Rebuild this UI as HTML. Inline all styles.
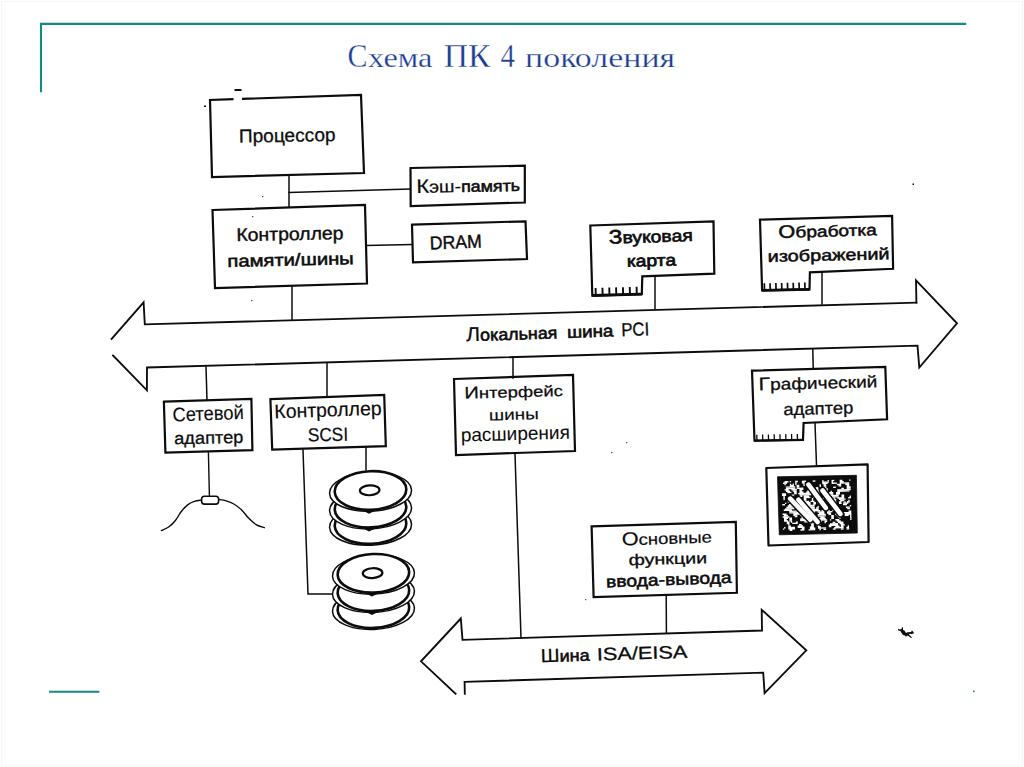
<!DOCTYPE html>
<html lang="ru"><head><meta charset="utf-8"><title>Схема ПК 4 поколения</title>
<style>
html,body{margin:0;padding:0;background:#fff;}
body{width:1024px;height:767px;overflow:hidden;position:relative;font-family:"Liberation Sans",sans-serif;}
svg{position:absolute;left:0;top:0;display:block;}
.l{fill:none;stroke:#0c0c0c;stroke-width:1.85;stroke-linecap:square;stroke-linejoin:miter;}
.c{stroke-width:1.5 !important;}
.b{fill:none;stroke:#0c0c0c;stroke-width:2.2;stroke-linejoin:miter;}
.t{font-family:"Liberation Sans",sans-serif;font-size:18.5px;fill:#0c0c0c;stroke:#0c0c0c;stroke-width:0.5;}
.title{font-family:"Liberation Serif",serif;fill:#1b3b92;font-size:34px;stroke:#fff;stroke-width:0.35;}
.lc{font-size:26.8px;stroke:#fff;stroke-width:0.25;}
</style></head><body>
<svg width="1024" height="767" viewBox="0 0 1024 767">
<rect x="0" y="0" width="1024" height="767" fill="#ffffff"/>
<rect x="1.5" y="1.5" width="1021" height="764" fill="none" stroke="#f6f6f6" stroke-width="1"/>
<path d="M41 92.2 V23.85 H966.2" fill="none" stroke="#138a88" stroke-width="2.1"/>
<path d="M49 691.8 H99.4" fill="none" stroke="#138a88" stroke-width="2.1"/>
<rect x="973" y="690.5" width="1.6" height="1.6" fill="#2f7f9f"/>
<text class="title" y="66.7"><tspan x="347.6" textLength="20" lengthAdjust="spacingAndGlyphs">С</tspan><tspan class="lc" x="368" textLength="64.5" lengthAdjust="spacingAndGlyphs">хема</tspan></text>
<text class="title" x="443.7" y="66.7" textLength="46.8" lengthAdjust="spacingAndGlyphs">ПК</text>
<text class="title" x="500.6" y="66.7" textLength="14.5" lengthAdjust="spacingAndGlyphs">4</text>
<text class="title" x="525.1" y="66.7" textLength="150" lengthAdjust="spacingAndGlyphs"><tspan class="lc">поколения</tspan></text>
<path class="b" d="M233.5 99.2 L210 100 L212 177 L364 173 L361 95 L242 98.9"/>
<text class="t" x="239" y="142.6" textLength="96.7" lengthAdjust="spacingAndGlyphs" transform="rotate(-0.95 239 142.6)" style="font-size:18.8px;stroke-width:0.3">Процессор</text>
<rect x="234.5" y="89" width="7" height="2" fill="#0c0c0c"/>
<rect x="204" y="105.5" width="2" height="1.5" fill="#0c0c0c"/>
<path class="l c" d="M289 175 L289 207"/>
<path class="l c" d="M289 192.5 L410 189"/>
<path class="b" d="M212.5 210 L365 205 L367 283.5 L215 288 Z"/>
<text class="t" x="236.4" y="241.1" textLength="107.3" lengthAdjust="spacingAndGlyphs" transform="rotate(-1.01 236.4 241.1)" style="font-size:18.2px;stroke-width:0.4">Контроллер</text>
<text class="t" x="227.5" y="267.1" textLength="126.4" lengthAdjust="spacingAndGlyphs" transform="rotate(-1.36 227.5 267.1)" style="font-size:18.5px;stroke-width:0.5"><tspan style="font-size:17px;stroke-width:0.55;">памяти/шины</tspan></text>
<path class="l c" d="M366 245.5 L412 244.5"/>
<path class="b" d="M410.5 168 L524.8 165.7 L524.8 202.5 L410.7 206 Z"/>
<text class="t" x="416.4" y="193" textLength="103.8" lengthAdjust="spacingAndGlyphs" transform="rotate(-1.21 416.4 193)" style="font-size:18.5px;stroke-width:0.5"><tspan style="font-size:19.4px;stroke-width:0.2;">К</tspan><tspan style="font-size:17.2px;stroke-width:0.2;">эш-</tspan><tspan style="font-size:15.8px;stroke-width:0.55;">память</tspan></text>
<path class="b" d="M412 224.7 L525.5 221.3 L527 259 L413 262.3 Z"/>
<text class="t" x="430" y="249.5" textLength="52.1" lengthAdjust="spacingAndGlyphs" transform="rotate(-2.31 430 249.5)" style="font-size:18.6px;stroke-width:0.4">DRAM</text>
<path class="l c" d="M292 287 L292 320"/>
<path class="l" d="M916.4 302.6 L144.8 324.4 L143.6 302.3 L111.6 338.9"/>
<path class="l" d="M113 355.5 L146.9 390.3 L147 367.5 L917.5 345.6 L919.3 367.5 L957 323.3 L916 280.4 L916.4 302.6"/>
<text class="t" x="466.3" y="341.2" textLength="91.2" lengthAdjust="spacingAndGlyphs" transform="rotate(-1.70 466.3 341.2)" style="font-size:18.5px;stroke-width:0.5"><tspan style="font-size:20px;stroke-width:0.2;">Л</tspan><tspan style="font-size:16.7px;stroke-width:0.6;">окальная</tspan></text>
<text class="t" x="567.2" y="337.9" textLength="46.4" lengthAdjust="spacingAndGlyphs" transform="rotate(-1.73 567.2 337.9)" style="font-size:18.5px;stroke-width:0.5"><tspan style="font-size:16.7px;stroke-width:0.6;">шина</tspan></text>
<text class="t" x="621.4" y="336.2" textLength="27.9" lengthAdjust="spacingAndGlyphs" transform="rotate(-1.85 621.4 336.2)" style="font-size:18.7px;stroke-width:0.3">PCI</text>
<path class="b" d="M590.3 225.5 L713.5 221.3 L714.3 273.7 L642.3 276.3 L641.8 294.2 L592.3 295.5 Z"/>
<path class="b" style="stroke-width:2.8" d="M592.3 295.5 L641.8 294.2"/>
<path class="l" style="stroke-width:1.9;stroke-linecap:butt" d="M595.8 295.408 L595.6 287.908"/>
<path class="l" style="stroke-width:1.9;stroke-linecap:butt" d="M602.633 295.229 L602.433 287.729"/>
<path class="l" style="stroke-width:1.9;stroke-linecap:butt" d="M609.467 295.049 L609.267 287.549"/>
<path class="l" style="stroke-width:1.9;stroke-linecap:butt" d="M616.3 294.87 L616.1 287.37"/>
<path class="l" style="stroke-width:1.9;stroke-linecap:butt" d="M623.133 294.69 L622.933 287.19"/>
<path class="l" style="stroke-width:1.9;stroke-linecap:butt" d="M629.967 294.511 L629.767 287.011"/>
<path class="l" style="stroke-width:1.9;stroke-linecap:butt" d="M636.8 294.331 L636.6 286.831"/>
<text class="t" x="609.1" y="243.8" textLength="83.8" lengthAdjust="spacingAndGlyphs" transform="rotate(-1.91 609.1 243.8)" style="font-size:18.5px;stroke-width:0.5"><tspan style="font-size:19.5px;stroke-width:0.65;">З</tspan><tspan style="font-size:16.8px;stroke-width:0.65;">вуковая</tspan></text>
<text class="t" x="626.9" y="266.7" textLength="49.3" lengthAdjust="spacingAndGlyphs" transform="rotate(-1.28 626.9 266.7)" style="font-size:18.5px;stroke-width:0.5"><tspan style="font-size:16.4px;stroke-width:0.7;">карта</tspan></text>
<path class="l c" d="M655 277 L655 308.5"/>
<path class="b" d="M760 219.6 L892.1 215.8 L893.1 268.8 L809.9 272.3 L809.5 289.3 L762.1 290.4 Z"/>
<path class="b" style="stroke-width:2.8" d="M762.1 290.4 L809.5 289.3"/>
<path class="l" style="stroke-width:1.7;stroke-linecap:butt" d="M764.5 290.344 L764.3 283.344"/>
<path class="l" style="stroke-width:1.7;stroke-linecap:butt" d="M770.286 290.21 L770.086 283.21"/>
<path class="l" style="stroke-width:1.7;stroke-linecap:butt" d="M776.071 290.076 L775.871 283.076"/>
<path class="l" style="stroke-width:1.7;stroke-linecap:butt" d="M781.857 289.942 L781.657 282.942"/>
<path class="l" style="stroke-width:1.7;stroke-linecap:butt" d="M787.643 289.807 L787.443 282.807"/>
<path class="l" style="stroke-width:1.7;stroke-linecap:butt" d="M793.429 289.673 L793.229 282.673"/>
<path class="l" style="stroke-width:1.7;stroke-linecap:butt" d="M799.214 289.539 L799.014 282.539"/>
<path class="l" style="stroke-width:1.7;stroke-linecap:butt" d="M805 289.404 L804.8 282.404"/>
<text class="t" x="778.6" y="238.1" textLength="98.4" lengthAdjust="spacingAndGlyphs" transform="rotate(-1.69 778.6 238.1)" style="font-size:18.5px;stroke-width:0.5"><tspan style="font-size:18px;stroke-width:0.5;">О</tspan><tspan style="font-size:15.8px;stroke-width:0.5;">бработка</tspan></text>
<text class="t" x="767.8" y="261.9" textLength="121.9" lengthAdjust="spacingAndGlyphs" transform="rotate(-1.22 767.8 261.9)" style="font-size:16.2px;stroke-width:0.5">изображений</text>
<path class="l c" d="M822 272 L822 304"/>
<path class="l c" d="M206 367 L207 400"/>
<path class="b" d="M163.9 401.7 L251.4 398.9 L252.4 450.2 L165.4 452.7 Z"/>
<text class="t" x="172.7" y="421.5" textLength="71.3" lengthAdjust="spacingAndGlyphs" transform="rotate(-2.09 172.7 421.5)" style="font-size:19.6px;stroke-width:0.1">Сетевой</text>
<text class="t" x="174.2" y="444.3" textLength="69.3" lengthAdjust="spacingAndGlyphs" transform="rotate(-1.16 174.2 444.3)" style="font-size:17.3px;stroke-width:0.3">адаптер</text>
<path class="l" style="stroke-width:1.4" d="M208.4 452 L209.4 496"/>
<rect x="201.6" y="496.3" width="17" height="7.8" rx="2.8" ry="2.8" class="l" style="fill:#fff;stroke-width:1.6"/>
<path class="l" style="stroke-width:1.4;stroke-linecap:round" d="M161.4 530.6 C162.7 530.0 166.7 528.5 169 526.8 C171.3 525.1 173.3 523.1 175.4 520.5 C177.5 517.9 179.6 513.6 181.7 511 C183.8 508.4 185.9 506.2 188 504.6 C190.1 503.0 192.2 502.1 194.4 501.4 C196.6 500.6 200.2 500.3 201.4 500.1"/>
<path class="l" style="stroke-width:1.4;stroke-linecap:round" d="M218.6 499.5 C219.9 499.7 223.7 500.1 226.2 500.8 C228.7 501.6 231.3 502.5 233.8 504 C236.3 505.5 238.9 507.3 241.4 509.7 C243.9 512.1 246.5 516.1 249 518.6 C251.5 521.1 254.1 523.4 256.6 524.9 C259.2 526.4 263.0 527.2 264.3 527.7"/>
<path class="l c" d="M327 363 L327 396.5"/>
<path class="b" d="M270.4 399.2 L384.2 395 L385.8 446.2 L272.2 449.5 Z"/>
<text class="t" x="274.6" y="418.3" textLength="107.2" lengthAdjust="spacingAndGlyphs" transform="rotate(-1.87 274.6 418.3)" style="font-size:19.6px;stroke-width:0.2">Контроллер</text>
<text class="t" x="307.9" y="441.5" textLength="40.3" lengthAdjust="spacingAndGlyphs" transform="rotate(-1.28 307.9 441.5)" style="font-size:18.9px;stroke-width:0.2">SCSI</text>
<path class="l c" d="M303 450 L308 594 L333.5 594"/>
<path class="l c" d="M366 447 L366 470"/>
<ellipse cx="370.5" cy="525.7" rx="41" ry="19.6" fill="#fff" stroke="#0c0c0c" stroke-width="1.5" transform="rotate(-2.5 370.5 524.5)"/>
<ellipse cx="370.5" cy="524.5" rx="35.8" ry="19.3" fill="#fff" stroke="#0c0c0c" stroke-width="2.6" transform="rotate(-2.5 370.5 524.5)"/>
<ellipse cx="370.5" cy="509.3" rx="41" ry="19.6" fill="#fff" stroke="#0c0c0c" stroke-width="1.5" transform="rotate(-2.5 370.5 508.1)"/>
<ellipse cx="370.5" cy="508.1" rx="35.8" ry="19.3" fill="#fff" stroke="#0c0c0c" stroke-width="2.6" transform="rotate(-2.5 370.5 508.1)"/>
<path d="M360.5 527.1 L369 531.4 L378.5 526.7 Z" fill="#0c0c0c"/>
<ellipse cx="370.5" cy="491.7" rx="41" ry="19.6" fill="#fff" stroke="#0c0c0c" stroke-width="1.5" transform="rotate(-2.5 370.5 490.5)"/>
<ellipse cx="370.5" cy="490.5" rx="35.8" ry="19.3" fill="#fff" stroke="#0c0c0c" stroke-width="2.6" transform="rotate(-2.5 370.5 490.5)"/>
<path d="M360.5 509.5 L369 513.8 L378.5 509.1 Z" fill="#0c0c0c"/>
<ellipse cx="369.7" cy="490.3" rx="9.8" ry="4.9" fill="#fff" stroke="#0c0c0c" stroke-width="2.2" transform="rotate(-2.5 370.5 490.5)"/>
<ellipse cx="373.4" cy="609.8" rx="41" ry="19.6" fill="#fff" stroke="#0c0c0c" stroke-width="1.5" transform="rotate(-2.5 373.4 608.6)"/>
<ellipse cx="373.4" cy="608.6" rx="35.8" ry="19.3" fill="#fff" stroke="#0c0c0c" stroke-width="2.6" transform="rotate(-2.5 373.4 608.6)"/>
<ellipse cx="373.4" cy="592.8" rx="41" ry="19.6" fill="#fff" stroke="#0c0c0c" stroke-width="1.5" transform="rotate(-2.5 373.4 591.6)"/>
<ellipse cx="373.4" cy="591.6" rx="35.8" ry="19.3" fill="#fff" stroke="#0c0c0c" stroke-width="2.6" transform="rotate(-2.5 373.4 591.6)"/>
<path d="M363.4 610.6 L371.9 614.9 L381.4 610.2 Z" fill="#0c0c0c"/>
<ellipse cx="373.4" cy="574.5" rx="41" ry="19.6" fill="#fff" stroke="#0c0c0c" stroke-width="1.5" transform="rotate(-2.5 373.4 573.3)"/>
<ellipse cx="373.4" cy="573.3" rx="35.8" ry="19.3" fill="#fff" stroke="#0c0c0c" stroke-width="2.6" transform="rotate(-2.5 373.4 573.3)"/>
<path d="M363.4 592.3 L371.9 596.6 L381.4 591.9 Z" fill="#0c0c0c"/>
<ellipse cx="372.6" cy="573.1" rx="9.8" ry="4.9" fill="#fff" stroke="#0c0c0c" stroke-width="2.2" transform="rotate(-2.5 373.4 573.3)"/>
<path class="l c" d="M513 357 L513 378"/>
<path class="b" d="M454 379 L573 375 L575 451 L456 455 Z"/>
<text class="t" x="464.6" y="398.6" textLength="98.4" lengthAdjust="spacingAndGlyphs" transform="rotate(-1.51 464.6 398.6)" style="font-size:18.5px;stroke-width:0.5"><tspan style="font-size:16.6px;stroke-width:0.25;">И</tspan><tspan style="font-size:15.2px;stroke-width:0.25;">нтерфейс</tspan></text>
<text class="t" x="489" y="420.4" textLength="50.0" lengthAdjust="spacingAndGlyphs" transform="rotate(-1.26 489 420.4)" style="font-size:15.5px;stroke-width:0.15">шины</text>
<text class="t" x="461" y="441.4" textLength="109.0" lengthAdjust="spacingAndGlyphs" transform="rotate(-1.37 461 441.4)" style="font-size:19px;stroke-width:0.05">расширения</text>
<path class="l c" d="M515 454 L521 638"/>
<path class="l c" d="M812.8 349 L813.2 368"/>
<path class="b" d="M752 370.6 L885.3 367 L887.1 419.3 L803.6 423 L803 439.8 L754.5 440.7 Z"/>
<path class="b" style="stroke-width:2.1" d="M754.5 440.7 L803 439.8"/>
<path class="l" style="stroke-width:1.3;stroke-linecap:butt" d="M757 440.654 L756.8 434.654"/>
<path class="l" style="stroke-width:1.3;stroke-linecap:butt" d="M762.786 440.546 L762.586 434.546"/>
<path class="l" style="stroke-width:1.3;stroke-linecap:butt" d="M768.571 440.439 L768.371 434.439"/>
<path class="l" style="stroke-width:1.3;stroke-linecap:butt" d="M774.357 440.332 L774.157 434.332"/>
<path class="l" style="stroke-width:1.3;stroke-linecap:butt" d="M780.143 440.224 L779.943 434.224"/>
<path class="l" style="stroke-width:1.3;stroke-linecap:butt" d="M785.929 440.117 L785.729 434.117"/>
<path class="l" style="stroke-width:1.3;stroke-linecap:butt" d="M791.714 440.009 L791.514 434.009"/>
<path class="l" style="stroke-width:1.3;stroke-linecap:butt" d="M797.5 439.902 L797.3 433.902"/>
<text class="t" x="758.8" y="390.3" textLength="118.7" lengthAdjust="spacingAndGlyphs" transform="rotate(-1.45 758.8 390.3)" style="font-size:18.5px;stroke-width:0.5"><tspan style="font-size:18.2px;stroke-width:0.3;">Г</tspan><tspan style="font-size:16.5px;stroke-width:0.3;">рафический</tspan></text>
<text class="t" x="783.6" y="415.3" textLength="69.8" lengthAdjust="spacingAndGlyphs" transform="rotate(-1.64 783.6 415.3)" style="font-size:17px;stroke-width:0.3">адаптер</text>
<path class="l c" d="M815 423 L816.5 465"/>
<path d="M766.3 468 L867.6 464.4 L868.6 542 L768.5 545.5 Z" fill="#fff" stroke="#0c0c0c" stroke-width="2.2" stroke-linejoin="round"/>
<path d="M777.5 476.8 L856.4 475.3 L857.3 533 L779.3 534.8 Z" fill="#0c0c0c" stroke="#0c0c0c" stroke-width="0.8"/>
<path transform="rotate(-1.5 817 505)" d="M785.0 480.3h4.05v1.35h-4.05zM790.4 480.3h1.35v1.35h-1.35zM795.8 480.3h2.70v1.35h-2.70zM802.5 480.3h4.05v1.35h-4.05zM813.3 480.3h2.70v1.35h-2.70zM822.8 480.3h1.35v1.35h-1.35zM828.2 480.3h1.35v1.35h-1.35zM832.2 480.3h2.70v1.35h-2.70zM840.3 480.3h2.70v1.35h-2.70zM849.8 480.3h1.35v1.35h-1.35zM783.6 481.7h4.05v1.35h-4.05zM795.8 481.7h1.35v1.35h-1.35zM802.5 481.7h2.70v1.35h-2.70zM809.3 481.7h1.35v1.35h-1.35zM822.8 481.7h6.75v1.35h-6.75zM832.2 481.7h1.35v1.35h-1.35zM840.3 481.7h4.05v1.35h-4.05zM785.0 483.0h1.35v1.35h-1.35zM790.4 483.0h1.35v1.35h-1.35zM793.1 483.0h1.35v1.35h-1.35zM795.8 483.0h1.35v1.35h-1.35zM803.9 483.0h2.70v1.35h-2.70zM809.3 483.0h1.35v1.35h-1.35zM822.8 483.0h5.40v1.35h-5.40zM832.2 483.0h5.40v1.35h-5.40zM840.3 483.0h9.45v1.35h-9.45zM790.4 484.4h4.05v1.35h-4.05zM797.1 484.4h2.70v1.35h-2.70zM803.9 484.4h2.70v1.35h-2.70zM809.3 484.4h1.35v1.35h-1.35zM820.1 484.4h1.35v1.35h-1.35zM824.1 484.4h2.70v1.35h-2.70zM837.6 484.4h4.05v1.35h-4.05zM845.8 484.4h4.05v1.35h-4.05zM786.3 485.7h9.45v1.35h-9.45zM797.1 485.7h2.70v1.35h-2.70zM809.3 485.7h1.35v1.35h-1.35zM820.1 485.7h1.35v1.35h-1.35zM824.1 485.7h2.70v1.35h-2.70zM839.0 485.7h2.70v1.35h-2.70zM847.1 485.7h2.70v1.35h-2.70zM786.3 487.1h9.45v1.35h-9.45zM797.1 487.1h6.75v1.35h-6.75zM809.3 487.1h2.70v1.35h-2.70zM816.0 487.1h2.70v1.35h-2.70zM825.5 487.1h1.35v1.35h-1.35zM833.6 487.1h2.70v1.35h-2.70zM847.1 487.1h4.05v1.35h-4.05zM785.0 488.4h4.05v1.35h-4.05zM791.8 488.4h5.40v1.35h-5.40zM799.8 488.4h4.05v1.35h-4.05zM809.3 488.4h1.35v1.35h-1.35zM816.0 488.4h2.70v1.35h-2.70zM826.8 488.4h1.35v1.35h-1.35zM841.7 488.4h2.70v1.35h-2.70zM847.1 488.4h4.05v1.35h-4.05zM786.3 489.8h4.05v1.35h-4.05zM793.1 489.8h4.05v1.35h-4.05zM799.8 489.8h2.70v1.35h-2.70zM807.9 489.8h2.70v1.35h-2.70zM816.0 489.8h6.75v1.35h-6.75zM825.5 489.8h2.70v1.35h-2.70zM837.6 489.8h13.50v1.35h-13.50zM787.7 491.1h4.05v1.35h-4.05zM794.4 491.1h2.70v1.35h-2.70zM799.8 491.1h4.05v1.35h-4.05zM806.6 491.1h4.05v1.35h-4.05zM817.4 491.1h2.70v1.35h-2.70zM824.1 491.1h4.05v1.35h-4.05zM830.9 491.1h1.35v1.35h-1.35zM837.6 491.1h12.15v1.35h-12.15zM782.3 492.4h4.05v1.35h-4.05zM794.4 492.4h2.70v1.35h-2.70zM798.5 492.4h14.85v1.35h-14.85zM817.4 492.4h2.70v1.35h-2.70zM824.1 492.4h2.70v1.35h-2.70zM829.5 492.4h4.05v1.35h-4.05zM836.3 492.4h4.05v1.35h-4.05zM782.3 493.8h4.05v1.35h-4.05zM791.8 493.8h2.70v1.35h-2.70zM799.8 493.8h12.15v1.35h-12.15zM824.1 493.8h1.35v1.35h-1.35zM828.2 493.8h5.40v1.35h-5.40zM836.3 493.8h4.05v1.35h-4.05zM783.6 495.2h1.35v1.35h-1.35zM799.8 495.2h2.70v1.35h-2.70zM803.9 495.2h5.40v1.35h-5.40zM814.7 495.2h2.70v1.35h-2.70zM824.1 495.2h1.35v1.35h-1.35zM828.2 495.2h10.80v1.35h-10.80zM841.7 495.2h2.70v1.35h-2.70zM783.6 496.5h1.35v1.35h-1.35zM803.9 496.5h6.75v1.35h-6.75zM813.3 496.5h5.40v1.35h-5.40zM832.2 496.5h6.75v1.35h-6.75zM841.7 496.5h2.70v1.35h-2.70zM849.8 496.5h1.35v1.35h-1.35zM783.6 497.9h1.35v1.35h-1.35zM803.9 497.9h2.70v1.35h-2.70zM812.0 497.9h1.35v1.35h-1.35zM817.4 497.9h2.70v1.35h-2.70zM822.8 497.9h1.35v1.35h-1.35zM833.6 497.9h1.35v1.35h-1.35zM837.6 497.9h6.75v1.35h-6.75zM848.4 497.9h2.70v1.35h-2.70zM790.4 499.2h2.70v1.35h-2.70zM803.9 499.2h2.70v1.35h-2.70zM812.0 499.2h1.35v1.35h-1.35zM817.4 499.2h2.70v1.35h-2.70zM822.8 499.2h1.35v1.35h-1.35zM828.2 499.2h2.70v1.35h-2.70zM833.6 499.2h2.70v1.35h-2.70zM839.0 499.2h6.75v1.35h-6.75zM787.7 500.6h1.35v1.35h-1.35zM798.5 500.6h1.35v1.35h-1.35zM802.5 500.6h1.35v1.35h-1.35zM805.2 500.6h4.05v1.35h-4.05zM810.6 500.6h4.05v1.35h-4.05zM817.4 500.6h2.70v1.35h-2.70zM828.2 500.6h4.05v1.35h-4.05zM833.6 500.6h2.70v1.35h-2.70zM840.3 500.6h4.05v1.35h-4.05zM848.4 500.6h1.35v1.35h-1.35zM785.0 501.9h1.35v1.35h-1.35zM790.4 501.9h4.05v1.35h-4.05zM797.1 501.9h6.75v1.35h-6.75zM805.2 501.9h5.40v1.35h-5.40zM813.3 501.9h2.70v1.35h-2.70zM817.4 501.9h2.70v1.35h-2.70zM830.9 501.9h1.35v1.35h-1.35zM834.9 501.9h1.35v1.35h-1.35zM839.0 501.9h2.70v1.35h-2.70zM844.4 501.9h1.35v1.35h-1.35zM847.1 501.9h2.70v1.35h-2.70zM782.3 503.2h2.70v1.35h-2.70zM789.0 503.2h14.85v1.35h-14.85zM805.2 503.2h5.40v1.35h-5.40zM813.3 503.2h2.70v1.35h-2.70zM822.8 503.2h1.35v1.35h-1.35zM834.9 503.2h1.35v1.35h-1.35zM839.0 503.2h2.70v1.35h-2.70zM843.0 503.2h5.40v1.35h-5.40zM787.7 504.6h12.15v1.35h-12.15zM806.6 504.6h8.10v1.35h-8.10zM843.0 504.6h4.05v1.35h-4.05zM786.3 505.9h9.45v1.35h-9.45zM797.1 505.9h2.70v1.35h-2.70zM807.9 505.9h6.75v1.35h-6.75zM817.4 505.9h1.35v1.35h-1.35zM825.5 505.9h1.35v1.35h-1.35zM849.8 505.9h1.35v1.35h-1.35zM785.0 507.3h9.45v1.35h-9.45zM798.5 507.3h2.70v1.35h-2.70zM809.3 507.3h5.40v1.35h-5.40zM816.0 507.3h2.70v1.35h-2.70zM824.1 507.3h2.70v1.35h-2.70zM845.8 507.3h4.05v1.35h-4.05zM783.6 508.7h8.10v1.35h-8.10zM807.9 508.7h10.80v1.35h-10.80zM822.8 508.7h5.40v1.35h-5.40zM834.9 508.7h4.05v1.35h-4.05zM847.1 508.7h2.70v1.35h-2.70zM789.0 510.0h8.10v1.35h-8.10zM803.9 510.0h16.20v1.35h-16.20zM821.4 510.0h8.10v1.35h-8.10zM832.2 510.0h6.75v1.35h-6.75zM789.0 511.4h9.45v1.35h-9.45zM802.5 511.4h6.75v1.35h-6.75zM812.0 511.4h2.70v1.35h-2.70zM817.4 511.4h6.75v1.35h-6.75zM826.8 511.4h5.40v1.35h-5.40zM848.4 511.4h2.70v1.35h-2.70zM782.3 512.7h4.05v1.35h-4.05zM793.1 512.7h6.75v1.35h-6.75zM802.5 512.7h5.40v1.35h-5.40zM818.8 512.7h5.40v1.35h-5.40zM826.8 512.7h4.05v1.35h-4.05zM843.0 512.7h8.10v1.35h-8.10zM783.6 514.0h4.05v1.35h-4.05zM793.1 514.0h4.05v1.35h-4.05zM799.8 514.0h2.70v1.35h-2.70zM803.9 514.0h4.05v1.35h-4.05zM817.4 514.0h8.10v1.35h-8.10zM828.2 514.0h2.70v1.35h-2.70zM834.9 514.0h1.35v1.35h-1.35zM844.4 514.0h6.75v1.35h-6.75zM782.3 515.4h6.75v1.35h-6.75zM794.4 515.4h2.70v1.35h-2.70zM801.2 515.4h1.35v1.35h-1.35zM805.2 515.4h2.70v1.35h-2.70zM817.4 515.4h8.10v1.35h-8.10zM830.9 515.4h2.70v1.35h-2.70zM836.3 515.4h1.35v1.35h-1.35zM844.4 515.4h4.05v1.35h-4.05zM849.8 515.4h1.35v1.35h-1.35zM783.6 516.8h4.05v1.35h-4.05zM789.0 516.8h2.70v1.35h-2.70zM801.2 516.8h1.35v1.35h-1.35zM809.3 516.8h2.70v1.35h-2.70zM820.1 516.8h4.05v1.35h-4.05zM830.9 516.8h2.70v1.35h-2.70zM837.6 516.8h1.35v1.35h-1.35zM849.8 516.8h1.35v1.35h-1.35zM783.6 518.1h2.70v1.35h-2.70zM789.0 518.1h2.70v1.35h-2.70zM799.8 518.1h8.10v1.35h-8.10zM809.3 518.1h4.05v1.35h-4.05zM816.0 518.1h9.45v1.35h-9.45zM830.9 518.1h2.70v1.35h-2.70zM839.0 518.1h1.35v1.35h-1.35zM849.8 518.1h1.35v1.35h-1.35zM783.6 519.5h4.05v1.35h-4.05zM789.0 519.5h2.70v1.35h-2.70zM799.8 519.5h27.00v1.35h-27.00zM829.5 519.5h1.35v1.35h-1.35zM834.9 519.5h4.05v1.35h-4.05zM849.8 519.5h1.35v1.35h-1.35zM786.3 520.8h2.70v1.35h-2.70zM790.4 520.8h1.35v1.35h-1.35zM795.8 520.8h1.35v1.35h-1.35zM803.9 520.8h13.50v1.35h-13.50zM820.1 520.8h1.35v1.35h-1.35zM824.1 520.8h2.70v1.35h-2.70zM836.3 520.8h4.05v1.35h-4.05zM786.3 522.1h2.70v1.35h-2.70zM791.8 522.1h5.40v1.35h-5.40zM809.3 522.1h5.40v1.35h-5.40zM817.4 522.1h2.70v1.35h-2.70zM824.1 522.1h1.35v1.35h-1.35zM832.2 522.1h2.70v1.35h-2.70zM837.6 522.1h5.40v1.35h-5.40zM787.7 523.5h1.35v1.35h-1.35zM798.5 523.5h2.70v1.35h-2.70zM810.6 523.5h2.70v1.35h-2.70zM816.0 523.5h4.05v1.35h-4.05zM829.5 523.5h8.10v1.35h-8.10zM839.0 523.5h4.05v1.35h-4.05zM787.7 524.9h2.70v1.35h-2.70zM797.1 524.9h5.40v1.35h-5.40zM810.6 524.9h2.70v1.35h-2.70zM816.0 524.9h2.70v1.35h-2.70zM828.2 524.9h9.45v1.35h-9.45zM840.3 524.9h4.05v1.35h-4.05zM783.6 526.2h1.35v1.35h-1.35zM787.7 526.2h6.75v1.35h-6.75zM797.1 526.2h6.75v1.35h-6.75zM809.3 526.2h4.05v1.35h-4.05zM817.4 526.2h2.70v1.35h-2.70zM828.2 526.2h2.70v1.35h-2.70zM834.9 526.2h4.05v1.35h-4.05zM840.3 526.2h2.70v1.35h-2.70zM847.1 526.2h1.35v1.35h-1.35zM782.3 527.5h1.35v1.35h-1.35zM787.7 527.5h6.75v1.35h-6.75zM801.2 527.5h2.70v1.35h-2.70zM809.3 527.5h5.40v1.35h-5.40zM817.4 527.5h8.10v1.35h-8.10zM833.6 527.5h9.45v1.35h-9.45zM845.8 527.5h2.70v1.35h-2.70zM789.0 528.9h2.70v1.35h-2.70zM799.8 528.9h4.05v1.35h-4.05zM807.9 528.9h6.75v1.35h-6.75zM818.8 528.9h1.35v1.35h-1.35zM822.8 528.9h2.70v1.35h-2.70zM832.2 528.9h2.70v1.35h-2.70zM840.3 528.9h2.70v1.35h-2.70zM845.8 528.9h2.70v1.35h-2.70z" fill="#fff"/>
<path d="M790.2 498.7 L810.3 519.7" stroke="#0c0c0c" stroke-width="7.5" stroke-linecap="round"/>
<path d="M798.5 499.7 L817.6 522" stroke="#0c0c0c" stroke-width="7.5" stroke-linecap="round"/>
<path d="M808.5 484.6 L825.8 507.9" stroke="#0c0c0c" stroke-width="7.5" stroke-linecap="round"/>
<path d="M822.6 490.5 L840.4 513.8" stroke="#0c0c0c" stroke-width="7.5" stroke-linecap="round"/>
<path d="M790.2 498.7 L810.3 519.7" stroke="#fff" stroke-width="4.6" stroke-linecap="round"/>
<path d="M798.5 499.7 L817.6 522" stroke="#fff" stroke-width="4.6" stroke-linecap="round"/>
<path d="M808.5 484.6 L825.8 507.9" stroke="#fff" stroke-width="4.6" stroke-linecap="round"/>
<path d="M822.6 490.5 L840.4 513.8" stroke="#fff" stroke-width="4.6" stroke-linecap="round"/>
<path class="b" d="M591.6 526.3 L735.8 522 L736.9 592.8 L593.6 597.2 Z"/>
<text class="t" x="621.9" y="545.6" textLength="90.2" lengthAdjust="spacingAndGlyphs" transform="rotate(-2.03 621.9 545.6)" style="font-size:18.5px;stroke-width:0.5"><tspan style="font-size:18.7px;stroke-width:0.2;">О</tspan><tspan style="font-size:16px;stroke-width:0.2;">сновные</tspan></text>
<text class="t" x="628.7" y="565.2" textLength="78.6" lengthAdjust="spacingAndGlyphs" transform="rotate(-1.46 628.7 565.2)" style="font-size:15.4px;stroke-width:0.3">функции</text>
<text class="t" x="606.2" y="587.5" textLength="125.7" lengthAdjust="spacingAndGlyphs" transform="rotate(-2.14 606.2 587.5)" style="font-size:18.5px;stroke-width:0.5"><tspan style="font-size:16.6px;stroke-width:0.55;">ввода-вывода</tspan></text>
<path class="l c" d="M666.2 596 L666.4 632.5"/>
<path class="l" d="M455.6 693.8 L421 661.3 L460.8 618.5 L462.5 639.8 L762 630.5 L761.7 609.8 L806.3 650.3 L764.6 693.2 L763.2 672.6 L464.6 681.9 L464.8 693.8"/>
<text class="t" x="540.7" y="662.2" textLength="49.2" lengthAdjust="spacingAndGlyphs" transform="rotate(-1.63 540.7 662.2)" style="font-size:18.5px;stroke-width:0.5"><tspan style="font-size:19px;stroke-width:0.2;">Ш</tspan><tspan style="font-size:16.5px;stroke-width:0.55;">ина</tspan></text>
<text class="t" x="596.9" y="660.4" textLength="90.7" lengthAdjust="spacingAndGlyphs" transform="rotate(-1.64 596.9 660.4)" style="font-size:17.8px;stroke-width:0.3">ISA/EISA</text>
<rect x="262" y="196" width="1.4" height="1.2" fill="#555"/>
<rect x="252" y="216" width="1.4" height="1.2" fill="#555"/>
<rect x="251" y="300" width="1.4" height="1.2" fill="#555"/>
<rect x="611" y="452" width="1.4" height="1.2" fill="#555"/>
<rect x="626" y="442" width="1.4" height="1.2" fill="#555"/>
<rect x="585" y="599" width="1.4" height="1.2" fill="#555"/>
<rect x="912.5" y="183.5" width="1.5" height="1.5" fill="#0c0c0c"/>
<path d="M898 628.5 L899.5 629.5 L901.5 629 L902 627.3 L903 627.5 L903 630 L904.5 630.5 L905 631.5 L906 633 L907.5 632.3 L911 632 L912 630.5 L913.5 632 L913.8 633.5 L911.5 634 L908.5 633.8 L910 635.5 L912 637.5 L911 638 L908.5 636 L907 635.5 L906 637 L905 635.5 L903 635 L901.5 633 L900.5 631 L898.2 630.5 Z" fill="#0c0c0c"/>
</svg></body></html>
